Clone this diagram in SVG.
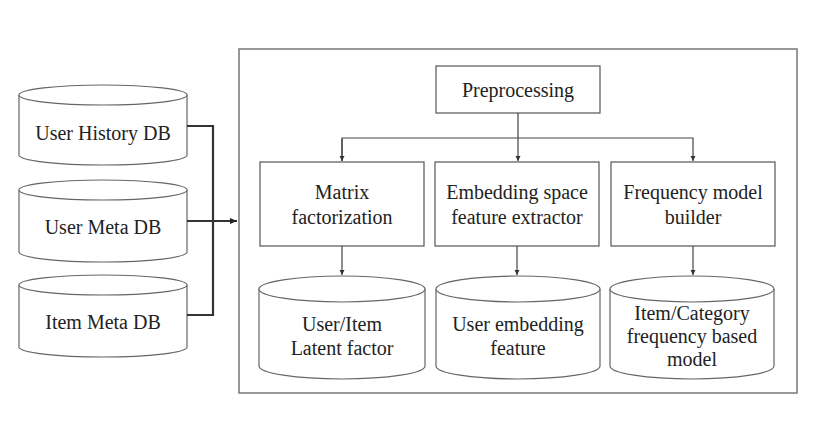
<svg xmlns="http://www.w3.org/2000/svg" width="815" height="423" viewBox="0 0 815 423">
<style>
text{font-family:"Liberation Serif","DejaVu Serif",serif;font-size:20px;fill:#222;text-anchor:middle}
.box{fill:#fff;stroke:#555;stroke-width:1.2}
.cyl{fill:#fff;stroke:#666;stroke-width:1.2}
.thin{fill:none;stroke:#444;stroke-width:1.2}
.thick{fill:none;stroke:#333;stroke-width:2.2}
</style>
<defs>
<marker id="ah" markerWidth="6" markerHeight="6" refX="5" refY="3" orient="auto" markerUnits="userSpaceOnUse">
<path d="M0,0.5 L5,3 L0,5.5 Z" fill="#333"/>
</marker>
<marker id="ahb" markerWidth="8" markerHeight="8" refX="7" refY="4" orient="auto" markerUnits="userSpaceOnUse">
<path d="M0,1 L7,4 L0,7 Z" fill="#222"/>
</marker>
</defs>
<rect width="815" height="423" fill="#fff"/>

<g id="outer">
<rect x="239" y="49" width="558" height="344" fill="none" stroke="#777" stroke-width="1.5"/>
</g>

<g id="user-history-db">
<path class="cyl" d="M19,95 L19,155 A84,10 0 0 0 187,155 L187,95"/>
<ellipse class="cyl" cx="103" cy="95" rx="84" ry="10"/>
<text x="103" y="140">User History DB</text>
</g>
<g id="user-meta-db">
<path class="cyl" d="M19,190 L19,252 A84,10 0 0 0 187,252 L187,190"/>
<ellipse class="cyl" cx="103" cy="190" rx="84" ry="10"/>
<text x="103" y="234">User Meta DB</text>
</g>
<g id="item-meta-db">
<path class="cyl" d="M19,285 L19,347 A84,10 0 0 0 187,347 L187,285"/>
<ellipse class="cyl" cx="103" cy="285" rx="84" ry="10"/>
<text x="103" y="329">Item Meta DB</text>
</g>

<g id="preprocessing">
<rect class="box" x="436" y="66" width="164" height="47"/>
<text x="518" y="97">Preprocessing</text>
</g>

<g id="matrix-factorization">
<rect class="box" x="260" y="162" width="164" height="84"/>
<text x="342" y="199">Matrix</text>
<text x="342" y="224">factorization</text>
</g>
<g id="embedding-extractor">
<rect class="box" x="435" y="162" width="164" height="84"/>
<text x="517" y="199">Embedding space</text>
<text x="517" y="224">feature extractor</text>
</g>
<g id="frequency-builder">
<rect class="box" x="611" y="162" width="164" height="84"/>
<text x="693" y="199">Frequency model</text>
<text x="693" y="224">builder</text>
</g>

<g id="latent-factor">
<path class="cyl" d="M259,289 L259,366 A83,13 0 0 0 425,366 L425,289"/>
<ellipse class="cyl" cx="342" cy="289" rx="83" ry="13"/>
<text x="342" y="331">User/Item</text>
<text x="342" y="355">Latent factor</text>
</g>
<g id="embedding-feature">
<path class="cyl" d="M436,289 L436,366 A82,13 0 0 0 600,366 L600,289"/>
<ellipse class="cyl" cx="518" cy="289" rx="82" ry="13"/>
<text x="518" y="331">User embedding</text>
<text x="518" y="355">feature</text>
</g>
<g id="frequency-model">
<path class="cyl" d="M610,289 L610,366 A82,13 0 0 0 774,366 L774,289"/>
<ellipse class="cyl" cx="692" cy="289" rx="82" ry="13"/>
<text x="692" y="320">Item/Category</text>
<text x="692" y="343">frequency based</text>
<text x="692" y="366">model</text>
</g>

<g id="connectors">
<path class="thick" d="M187,126 H213 V315 H187"/>
<path class="thick" d="M187,221 H237" marker-end="url(#ahb)"/>
<path class="thin" d="M518,113 V161" marker-end="url(#ah)"/>
<path class="thin" d="M342,161 V138 H693 V161" marker-end="url(#ah)"/>
<path class="thin" d="M342,139 V161" marker-end="url(#ah)"/>
<path class="thin" d="M342,246 V275" marker-end="url(#ah)"/>
<path class="thin" d="M517,246 V275" marker-end="url(#ah)"/>
<path class="thin" d="M693,246 V275" marker-end="url(#ah)"/>
</g>
</svg>
